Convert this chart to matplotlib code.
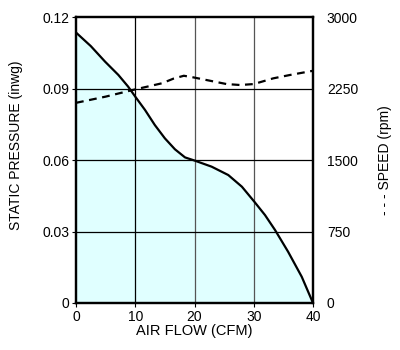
import matplotlib.pyplot as plt

plt.rcParams['font.family'] = ['Liberation Sans', 'DejaVu Sans']

# static pressure curve (CFM, inwg)
flow = [0, 2.5, 4.9, 7.15, 8.8, 10, 11.65, 13.3, 15, 16.7, 18.4, 20.1, 22.9, 25.7, 28, 30.1, 31.9, 33.6, 35.8, 38.1, 40]
pressure = [0.1135, 0.1078, 0.1013, 0.0957, 0.0908, 0.0866, 0.0810, 0.0747, 0.0691, 0.0645, 0.0611, 0.0597, 0.0572, 0.0537, 0.0488, 0.0425, 0.0369, 0.0306, 0.0215, 0.0110, 0.0]

# fan speed curve (CFM, rpm)
flow_s = [0, 5, 10, 14.5, 16.5, 18.2, 19.8, 22.6, 25.4, 27.7, 30, 33.3, 36.1, 39.8, 40]
speed = [2100, 2165, 2241, 2305, 2355, 2384, 2367, 2332, 2297, 2287, 2297, 2357, 2392, 2434, 2437]

fig = plt.figure(figsize=(4, 3.5), dpi=100)
ax = fig.add_axes([0.19, 0.1343, 0.5925, 0.817])

ax.fill_between(flow, pressure, 0, color='#e0ffff', zorder=1)
ax.plot(flow, pressure, color='black', lw=1.6, zorder=4)

for v in [10, 20, 30]:
    ax.axvline(v, color='black' if v == 10 else '#555555', lw=0.9, zorder=2)
for p in [0.03, 0.06, 0.09]:
    ax.axhline(p, color='black', lw=0.9, zorder=2)

ax.set_xlim(0, 40)
ax.set_ylim(0, 0.12)
ax.set_xticks([0, 10, 20, 30, 40])
ax.set_yticks([0, 0.03, 0.06, 0.09, 0.12])
ax.set_yticklabels(['0', '0.03', '0.06', '0.09', '0.12'])
ax.tick_params(direction='out', length=3, labelsize=10, pad=2)
ax.set_xlabel('AIR FLOW (CFM)', fontsize=10.5, labelpad=0)
ax.set_ylabel('STATIC PRESSURE (inwg)', fontsize=10)
ax.yaxis.set_label_coords(-0.224, 0.55)
for s in ax.spines.values():
    s.set_linewidth(1.6)

ax2 = ax.twinx()
ax2.plot(flow_s, speed, color='black', lw=1.6, ls=(0, (3.5, 2.5)), zorder=4)
ax2.set_ylim(0, 3000)
ax2.set_yticks([0, 750, 1500, 2250, 3000])
ax2.tick_params(direction='out', length=0, labelsize=10, pad=10)
ax2.set_ylabel('- - - SPEED (rpm)', fontsize=10, labelpad=14)
for s in ax2.spines.values():
    s.set_linewidth(1.6)

fig.savefig('out.png', dpi=100)
